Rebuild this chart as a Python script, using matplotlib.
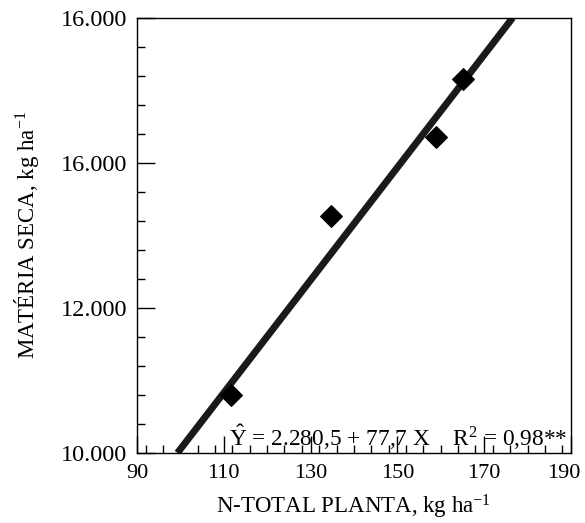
import matplotlib
matplotlib.use("Agg")
import matplotlib.pyplot as plt
import matplotlib.transforms as mtransforms
import numpy as np
from matplotlib.ticker import MultipleLocator

plt.rcParams['font.family'] = ['Liberation Serif', 'DejaVu Serif']
plt.rcParams['mathtext.fontset'] = 'custom'
plt.rcParams['mathtext.rm'] = 'Liberation Serif'
plt.rcParams['mathtext.it'] = 'Liberation Serif:italic'

# Data
n_total = [111.7, 134.7, 158.9, 165.1]
materia_seca = [10800, 13270, 14360, 15150]
intercept = 2280.5
slope = 77.7
xticks = [90, 110, 130, 150, 170, 190]
yticks = [10000, 12000, 14000, 16000]
ytick_labels = ["10.000", "12.000", "16.000", "16.000"]

fig = plt.figure(figsize=(5.85, 5.23), dpi=100)
ax = fig.add_axes([0.234, 0.134, 0.742, 0.832])

x0 = (10000 - intercept) / slope
x1 = (16000 - intercept) / slope
xl = np.array([x0, x1])
ax.plot(xl, intercept + slope * xl, color='#1a1a1a', lw=5, solid_capstyle='butt', zorder=2)
ax.scatter(n_total, materia_seca, marker='D', s=120, color='black', zorder=3)

ax.set_xlim(90, 190)
ax.set_ylim(10000, 16000)
ax.set_xticks(xticks)
ax.set_yticks(yticks)
ax.set_yticklabels(ytick_labels)
ax.xaxis.set_minor_locator(MultipleLocator(4))
ax.yaxis.set_minor_locator(MultipleLocator(400))
ax.tick_params(which='major', direction='in', length=12, width=1)
ax.tick_params(axis='x', which='major', pad=8, labelsize=16)
ax.tick_params(axis='y', which='major', length=13, pad=7, labelsize=17.5)
ax.tick_params(which='minor', direction='in', length=6, width=1)
for s in ax.spines.values():
    s.set_linewidth(1)

# nudge the last x tick label inward so it stays inside the figure
last = ax.get_xticklabels()[-1]
last.set_transform(last.get_transform() + mtransforms.ScaledTranslation(-5 / 72, 0, fig.dpi_scale_trans))

ax.set_xlabel("N-TOTAL PLANTA, kg ha$^{-1}$", fontsize=16.5, labelpad=7)
ax.set_ylabel("MATÉRIA SECA, kg ha$^{-1}$", fontsize=16.5, labelpad=14)

ax.text(189.2, 10100, r"$\hat{\mathrm{Y}}$ = 2.280,5 + 77,7 X    R$^2$ = 0,98**",
        ha='right', va='baseline', fontsize=16.8)

fig.savefig("out.png", dpi=100)
